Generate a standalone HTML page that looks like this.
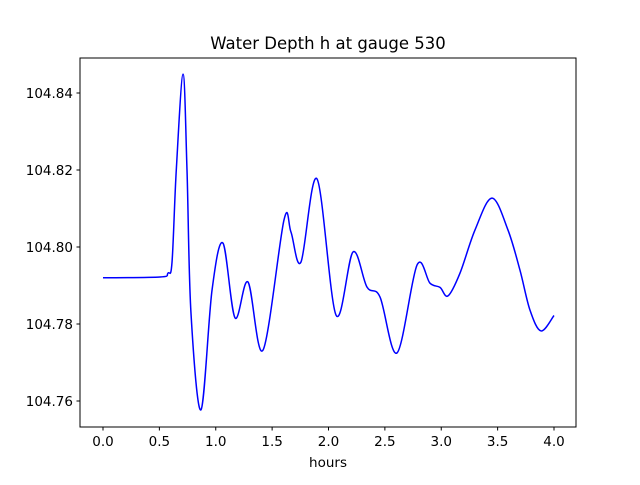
<!DOCTYPE html>
<html><head><meta charset="utf-8"><style>
body{margin:0;background:#fff;font-family:"Liberation Sans","DejaVu Sans",sans-serif}
svg text{font-family:"DejaVu Sans","Liberation Sans",sans-serif}
</style></head><body>
<svg id="chart" width="640" height="480" xmlns="http://www.w3.org/2000/svg">
<rect width="640" height="480" fill="#fff"/>
<text x="328" y="49" text-anchor="middle" font-size="16.5">Water Depth h at gauge 530</text>
<text x="328" y="467" text-anchor="middle" font-size="13.5">hours</text>
<g id="plot"></g>
<rect x="80" y="58" width="496" height="369" fill="none" stroke="#000" stroke-width="1"/>
</svg>
<script>
const hours=[0,0.506,0.576,0.612,0.65,0.71,0.745,0.78,0.869,0.967,1.064,1.171,1.286,1.419,1.605,1.667,1.756,1.898,2.067,2.217,2.341,2.457,2.608,2.785,2.900,2.989,3.060,3.166,3.299,3.450,3.592,3.698,3.787,3.885,4.0];
const depth=[104.7920,104.7922,104.7932,104.7960,104.8200,104.8449,104.8200,104.7830,104.7577,104.7888,104.8010,104.7816,104.7909,104.7732,104.8070,104.8039,104.7961,104.8177,104.7823,104.7987,104.7896,104.7870,104.7725,104.7953,104.7906,104.7895,104.7873,104.7932,104.8044,104.8127,104.8044,104.7940,104.7836,104.7782,104.7822];
const xTicks=[0,0.5,1,1.5,2,2.5,3,3.5,4];
const xTickLabels=["0.0","0.5","1.0","1.5","2.0","2.5","3.0","3.5","4.0"];
const yTicks=[104.76,104.78,104.80,104.82,104.84];
const yTickLabels=["104.76","104.78","104.80","104.82","104.84"];
const X=h=>103+h*112.75;
const Y=v=>93+(104.84-v)*3850;
const NS="http://www.w3.org/2000/svg";
const g=document.getElementById('plot');
function mk(t,a){const e=document.createElementNS(NS,t);for(const k in a)e.setAttribute(k,a[k]);g.appendChild(e);return e;}
xTicks.forEach((t,i)=>{
 const l=mk('line',{x1:X(t),x2:X(t),y1:427,y2:430.5,stroke:'#000'});
 
 
 const s=mk('text',{x:X(t),y:446,'text-anchor':'middle','font-size':'13.5'});
 s.textContent=xTickLabels[i];
 
 
});
yTicks.forEach((t,i)=>{
 const l=mk('line',{x1:76.5,x2:80,y1:Y(t),y2:Y(t),stroke:'#000'});
 
 
 const s=mk('text',{x:73,y:Y(t)+5,'text-anchor':'end','font-size':'13.5'});
 s.textContent=yTickLabels[i];
 
 
});
const P=hours.map((h,i)=>[X(h),Y(depth[i])]);
let d='M'+P[0][0]+','+P[0][1];
for(let i=0;i<P.length-1;i++){
 const p0=P[Math.max(0,i-1)],p1=P[i],p2=P[i+1],p3=P[Math.min(P.length-1,i+2)];
 const c1=[p1[0]+(p2[0]-p0[0])/6,p1[1]+(p2[1]-p0[1])/6];
 const c2=[p2[0]-(p3[0]-p1[0])/6,p2[1]-(p3[1]-p1[1])/6];
 d+=' C'+c1+' '+c2+' '+p2;
}
const path=mk('path',{d:d,fill:'none',stroke:'#0000ff','stroke-width':1.5});


</script>
</body></html>
